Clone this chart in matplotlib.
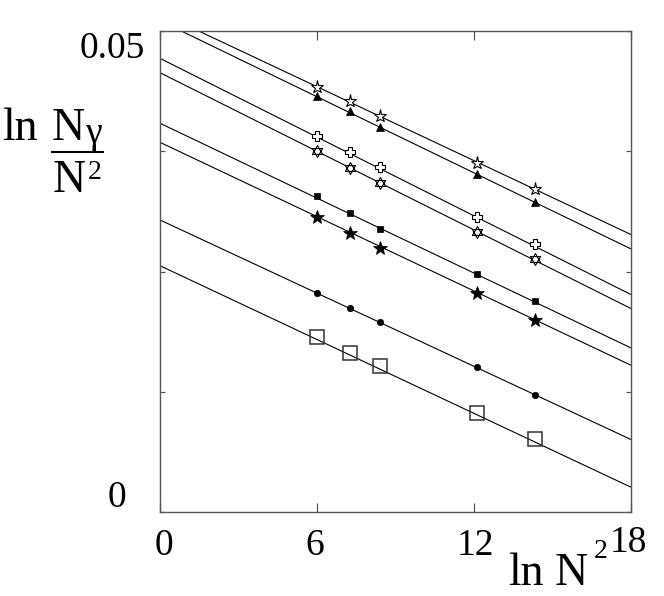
import numpy as np
import matplotlib
matplotlib.use("Agg")
import matplotlib.pyplot as plt
from matplotlib.path import Path

# ---- data ----
x_points = [5.99, 7.28, 8.40, 12.13, 14.34]          # ln N^2 of the five lattices
series_y = {
    "open_star":   [0.04419, 0.04270, 0.04114, 0.03623, 0.03353],
    "triangle":    [0.04322, 0.04166, 0.04003, 0.03512, 0.03225],
    "open_plus":   [0.03910, 0.03738, 0.03582, 0.03069, 0.02782],
    "hexagram":    [0.03754, 0.03578, 0.03422, 0.02913, 0.02630],
    "small_sq":    [0.03284, 0.03104, 0.02944, 0.02471, 0.02194],
    "filled_star": [0.03069, 0.02897, 0.02747, 0.02274, 0.01996],
    "circle":      [0.02274, 0.02124, 0.01979, 0.01512, 0.01218],
    "open_sq":     [0.01823, 0.01657, 0.01519, 0.01034, 0.00758],
}
# fitted straight lines: value at x = 0 and at x = 18
line_x = [0, 18]
line_y0 = [0.05186, 0.05104, 0.04713, 0.04564, 0.04039, 0.03841, 0.03035, 0.02560]
line_y18 = [0.02886, 0.02737, 0.02263, 0.02118, 0.01709, 0.01529, 0.00758, 0.00263]
xticks = [0, 6, 12, 18]
yticks = [0, 0.0125, 0.025, 0.0375, 0.05]

# ---- figure ----
W, H = 664, 596
fig = plt.figure(figsize=(W / 100, H / 100), dpi=100)
L, R, T, B = 160, 630.5, 30.7, 512.3
ax = fig.add_axes([L / W, 1 - B / H, (R - L) / W, (B - T) / H])
ax.set_xlim(0, 18)
ax.set_ylim(0, 0.05)

for y0, y18 in zip(line_y0, line_y18):
    ax.plot(line_x, [y0, y18], color="black", lw=0.8, zorder=2)

# hexagram marker (two overlapping triangles)
s3 = np.sqrt(3) / 2
up = [(0, 1), (-s3, -0.5), (s3, -0.5), (0, 1)]
dn = [(0, -1), (s3, 0.5), (-s3, 0.5), (0, -1)]
hexa = Path(up + dn, [Path.MOVETO, Path.LINETO, Path.LINETO, Path.CLOSEPOLY] * 2)

styles = {
    "open_star":   dict(marker="*", ms=9.5, mfc="white", mec="black", mew=0.8),
    "triangle":    dict(marker="^", ms=6.3, mfc="black", mec="black", mew=0.5),
    "open_plus":   dict(marker="P", ms=7, mfc="white", mec="black", mew=0.8),
    "hexagram":    dict(marker=hexa, ms=8.5, mfc="white", mec="black", mew=0.8),
    "small_sq":    dict(marker="s", ms=4.3, mfc="black", mec="black", mew=0.5),
    "filled_star": dict(marker="*", ms=10, mfc="black", mec="black", mew=0.5),
    "circle":      dict(marker="o", ms=4.6, mfc="black", mec="black", mew=0.5),
    "open_sq":     dict(marker="s", ms=10.5, mfc="none", mec="#333333", mew=1.1),
}
for name, ys in series_y.items():
    ax.plot(x_points, ys, ls="none", zorder=3, **styles[name])

# axes styling
for sp in ax.spines.values():
    sp.set_color("#555555")
    sp.set_linewidth(1.0)
ax.set_xticks(xticks)
ax.set_yticks(yticks)
ax.set_xticklabels([])
ax.set_yticklabels([])
ax.tick_params(axis="x", direction="in", length=6.5, width=0.9, color="#555555",
               top=True, bottom=True)
ax.tick_params(axis="y", direction="in", length=3.6, width=0.9, color="#555555",
               left=True, right=True)

FONT = "Liberation Serif"

def ftext(x, y, s, size, ha="left", va="baseline"):
    fig.text(x / W, 1 - y / H, s, fontsize=size, family=FONT, ha=ha, va=va)

# tick labels
ftext(145, 58, "0.05", 27, ha="right")
ftext(116.5, 507, "0", 27, ha="center")
ftext(163.5, 555, "0", 27, ha="center")
ftext(315, 555, "6", 27, ha="center")
ftext(475.5, 555, "12", 27, ha="center")
ftext(628, 552, "18", 27, ha="center")

# x label: ln N^2
ftext(508, 585, "ln", 33)
ftext(555, 585, "N", 33)
ftext(594, 558, "2", 20)

# y label: ln N_gamma / N^2
ftext(2, 140, "ln", 33)
ftext(52, 140, "N", 33)
ftext(85, 143, "γ", 27)
fig.add_artist(plt.Line2D([52 / W, 103 / W], [1 - 152 / H, 1 - 152 / H],
                          color="black", lw=1.5, transform=fig.transFigure))
ftext(53, 192, "N", 33)
ftext(88, 179, "2", 20)

fig.savefig("out.png", dpi=100)
